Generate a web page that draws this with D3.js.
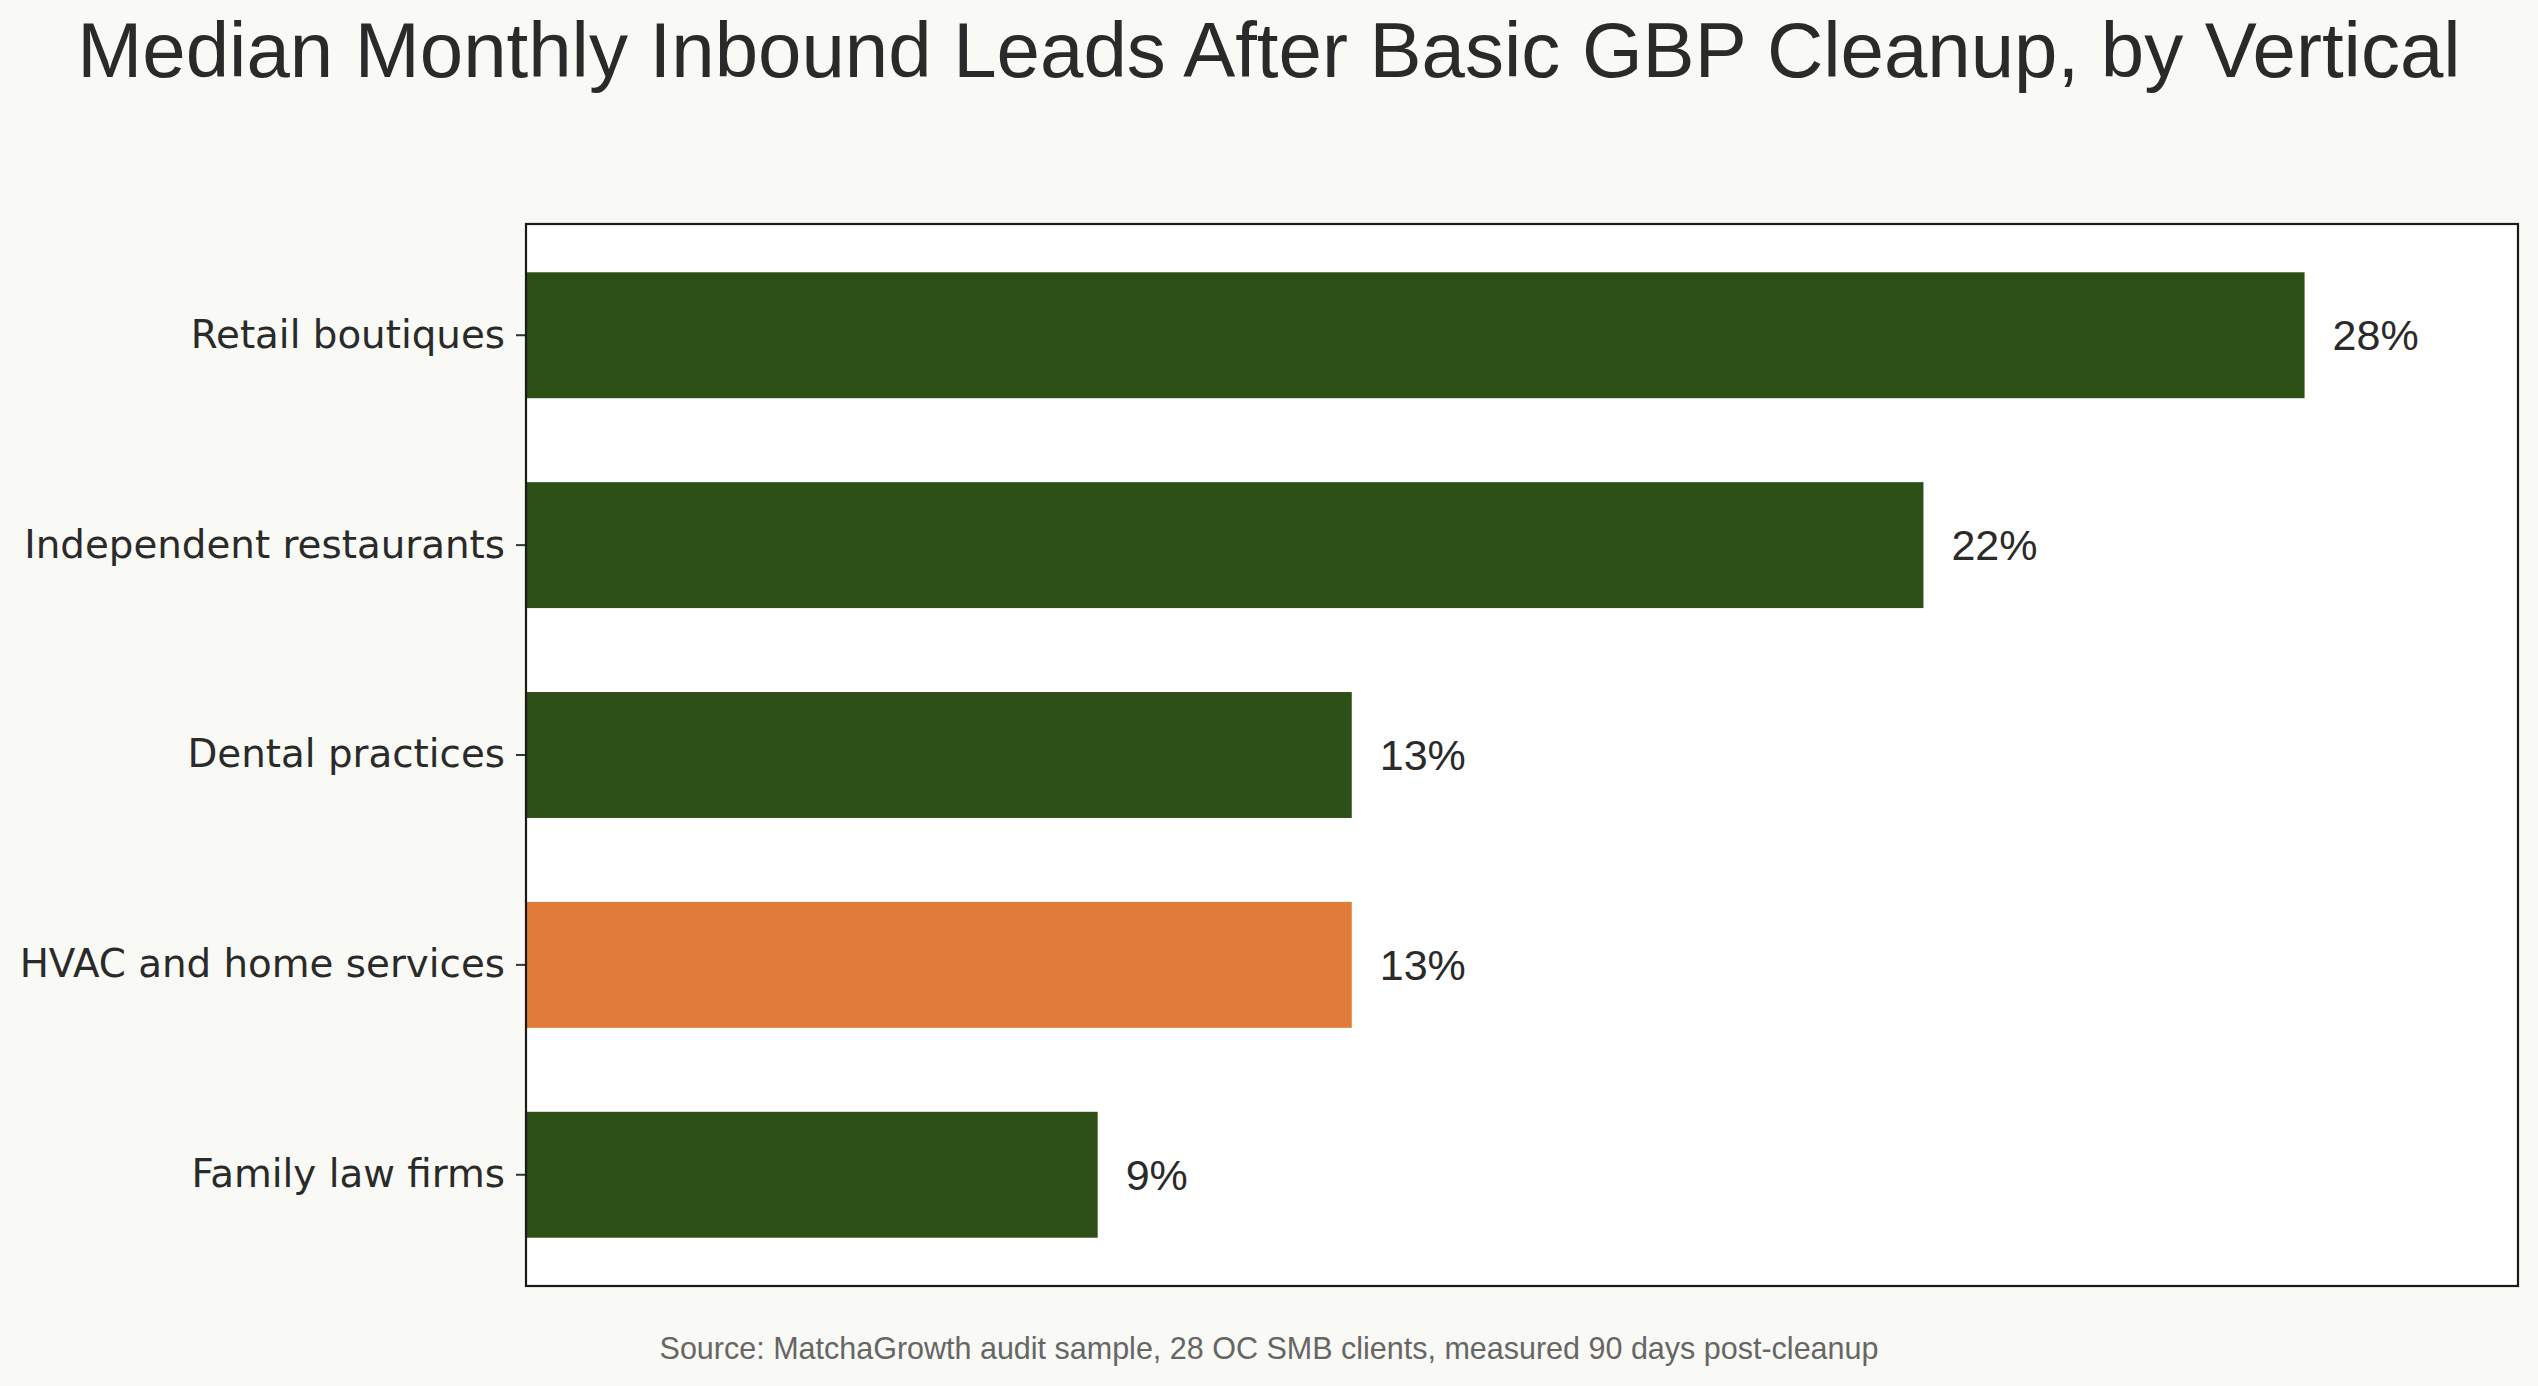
<!DOCTYPE html>
<html>
<head>
<meta charset="utf-8">
<script src="https://cdn.jsdelivr.net/npm/d3@7"></script>
<style>
  html, body { margin: 0; padding: 0; background: #f9f9f5; }
  svg { display: block; }
</style>
</head>
<body>
<svg id="chart" width="2538" height="1386"></svg>
<script>
const categories = ["Retail boutiques", "Independent restaurants", "Dental practices", "HVAC and home services", "Family law firms"];
const values = [28, 22, 13, 13, 9];
const highlight = ["HVAC and home services"];
const valueLabels = ["28%", "22%", "13%", "13%", "9%"];
const titleText = "Median Monthly Inbound Leads After Basic GBP Cleanup, by Vertical";
const sourceText = "Source: MatchaGrowth audit sample, 28 OC SMB clients, measured 90 days post-cleanup";

const W = 2538, H = 1386;
const margin = { left: 526, right: 20, top: 224, bottom: 100 };
const plotW = W - margin.left - margin.right; // 1992
const plotH = H - margin.top - margin.bottom; // 1062

const svg = d3.select("#chart");
svg.append("rect").attr("width", W).attr("height", H).attr("fill", "#f9f9f5");

const x = d3.scaleLinear().domain([0, d3.max(values) * 1.12]).range([0, plotW]);
const y = d3.scaleBand().domain(categories).range([0, plotH]).paddingInner(0.4).paddingOuter(0.23);

const g = svg.append("g").attr("transform", `translate(${margin.left},${margin.top})`);

g.append("rect").attr("width", plotW).attr("height", plotH).attr("fill", "#ffffff");

const data = categories.map((c, i) => ({ c, v: values[i], label: valueLabels[i] }));

g.selectAll("rect.bar").data(data).enter().append("rect")
  .attr("class", "bar")
  .attr("x", x(0))
  .attr("y", d => y(d.c))
  .attr("width", d => x(d.v) - x(0))
  .attr("height", y.bandwidth())
  .attr("fill", d => highlight.includes(d.c) ? "#e07b39" : "#2d5016");

g.selectAll("text.val").data(data).enter().append("text")
  .attr("class", "val")
  .attr("x", d => x(d.v) + 28)
  .attr("y", d => y(d.c) + y.bandwidth() / 2)
  .attr("dy", "0.35em")
  .attr("font-family", "'Liberation Sans', Arial, sans-serif")
  .attr("font-size", 43)
  .attr("fill", "#2a2a2a")
  .text(d => d.label);

// y axis
const yAxis = d3.axisLeft(y).tickSize(10).tickPadding(11);
const ya = g.append("g").call(yAxis);
ya.select(".domain").remove();
ya.selectAll(".tick line").attr("stroke", "#333").attr("stroke-width", 2);
ya.selectAll(".tick text")
  .attr("font-family", "'DejaVu Sans', sans-serif")
  .attr("font-size", 38.8)
  .attr("fill", "#2a2a2a");

// frame (spines)
g.append("rect").attr("width", plotW).attr("height", plotH)
  .attr("fill", "none").attr("stroke", "#1a1a1a").attr("stroke-width", 2.2);

// title
svg.append("text")
  .attr("x", W / 2).attr("y", 77)
  .attr("text-anchor", "middle")
  .attr("font-family", "'Liberation Sans', Arial, sans-serif")
  .attr("font-size", 78)
  .attr("fill", "#2a2a2a")
  .text(titleText);

// source
svg.append("text")
  .attr("x", W / 2).attr("y", 1359)
  .attr("text-anchor", "middle")
  .attr("font-family", "'Liberation Sans', Arial, sans-serif")
  .attr("font-size", 30.5)
  .attr("fill", "#666666")
  .text(sourceText);
</script>
</body>
</html>
